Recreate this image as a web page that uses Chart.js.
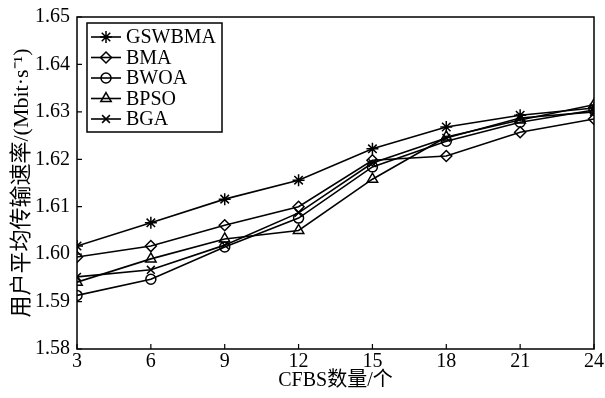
<!DOCTYPE html>
<html>
<head>
<meta charset="utf-8">
<script src="https://cdn.jsdelivr.net/npm/chart.js@4/dist/chart.umd.min.js"></script>
<style>
  html, body { margin: 0; padding: 0; background: #fff; }
  #wrap { width: 605px; height: 398px; }
</style>
</head>
<body>
<div id="wrap"><canvas id="rateChart"></canvas></div>
<script>
// CFBS count on x, average user rate (Mbit/s) on y
const cfbsCounts = [3, 6, 9, 12, 15, 18, 21, 24];
const gswbma = [1.6017, 1.6066, 1.6116, 1.6156, 1.6222, 1.6268, 1.6293, 1.6308];
const bma    = [1.5994, 1.6017, 1.6061, 1.6100, 1.6198, 1.6207, 1.6257, 1.6285];
const bwoa   = [1.5913, 1.5947, 1.6015, 1.6076, 1.6184, 1.6238, 1.6278, 1.6304];
const bpso   = [1.5941, 1.5990, 1.6032, 1.6050, 1.6158, 1.6247, 1.6283, 1.6315];
const bga    = [1.5952, 1.5967, 1.6019, 1.6087, 1.6192, 1.6245, 1.6287, 1.6300];
const seriesNames = ['GSWBMA', 'BMA', 'BWOA', 'BPSO', 'BGA'];
const yTicks = [1.58, 1.59, 1.60, 1.61, 1.62, 1.63, 1.64, 1.65];

const serif = '"Liberation Serif", "Times New Roman", "Noto Sans CJK SC", serif';
const markers = [
  { style: 'star', radius: 6 },
  { style: 'rectRot', radius: 5.5 },
  { style: 'circle', radius: 5 },
  { style: 'triangle', radius: 6 },
  { style: 'crossRot', radius: 5.5 }
];
const allSeries = [gswbma, bma, bwoa, bpso, bga];

const datasets = allSeries.map((vals, i) => ({
  label: seriesNames[i],
  data: vals.map((v, j) => ({ x: cfbsCounts[j], y: v })),
  borderColor: '#000',
  backgroundColor: 'rgba(255,255,255,0)',
  borderWidth: 1.6,
  pointStyle: markers[i].style,
  pointRadius: markers[i].radius,
  pointBorderWidth: 1.5,
  pointBorderColor: '#000',
  pointBackgroundColor: 'rgba(255,255,255,0)',
  tension: 0
}));

// frame, inward ticks and the boxed legend
const framePlugin = {
  id: 'frame',
  afterDraw(chart) {
    const { ctx, chartArea: a, scales } = chart;
    ctx.save();
    ctx.strokeStyle = '#000';
    ctx.lineWidth = 1.5;
    ctx.strokeRect(a.left, a.top, a.right - a.left, a.bottom - a.top);
    ctx.lineWidth = 1.2;
    ctx.beginPath();
    cfbsCounts.forEach(v => {
      const x = scales.x.getPixelForValue(v);
      ctx.moveTo(x, a.bottom);
      ctx.lineTo(x, a.bottom - 5);
    });
    yTicks.forEach(v => {
      const y = scales.y.getPixelForValue(v);
      ctx.moveTo(a.left, y);
      ctx.lineTo(a.left + 5, y);
    });
    ctx.stroke();

    // legend box
    const lx = a.left + 10, ly = a.top + 6, lw = 135, lh = 109;
    ctx.fillStyle = '#fff';
    ctx.fillRect(lx, ly, lw, lh);
    ctx.lineWidth = 1.5;
    ctx.strokeRect(lx, ly, lw, lh);
    ctx.font = '20px ' + serif;
    ctx.textBaseline = 'middle';
    seriesNames.forEach((name, i) => {
      const y = ly + 14 + i * 20.5;
      ctx.lineWidth = 1.6;
      ctx.beginPath();
      ctx.moveTo(lx + 4, y);
      ctx.lineTo(lx + 34, y);
      ctx.stroke();
      ctx.lineWidth = 1.5;
      ctx.fillStyle = 'rgba(255,255,255,0)';
      Chart.helpers.drawPoint(ctx, {
        pointStyle: markers[i].style,
        radius: markers[i].radius,
        rotation: 0,
        borderWidth: 1.5
      }, lx + 19, y);
      ctx.fillStyle = '#000';
      ctx.fillText(name, lx + 39, y + 1);
    });
    ctx.restore();
  }
};

new Chart(document.getElementById('rateChart'), {
  type: 'line',
  data: { datasets },
  options: {
    responsive: true,
    maintainAspectRatio: false,
    animation: false,
    layout: { padding: { left: 0, top: 17, right: 11, bottom: 0 } },
    plugins: {
      legend: { display: false },
      tooltip: { enabled: false }
    },
    scales: {
      x: {
        type: 'linear',
        min: 3,
        max: 24,
        afterBuildTicks: s => { s.ticks = cfbsCounts.map(v => ({ value: v })); },
        afterFit: s => { s.height = 49; s.paddingLeft = 0; s.paddingRight = 0; },
        grid: { display: false, drawTicks: false },
        border: { display: false },
        ticks: { color: '#000', font: { family: serif, size: 20 }, padding: 1 },
        title: {
          display: true,
          text: 'CFBS数量/个',
          color: '#000',
          font: { family: serif, size: 20 },
          padding: { top: 0, bottom: 5 }
        }
      },
      y: {
        min: 1.58,
        max: 1.65,
        afterBuildTicks: s => { s.ticks = yTicks.map(v => ({ value: v })); },
        afterFit: s => { s.width = 77; s.paddingTop = 0; s.paddingBottom = 0; },
        grid: { display: false, drawTicks: false },
        border: { display: false },
        ticks: {
          color: '#000',
          font: { family: serif, size: 20 },
          padding: 7,
          callback: v => Number(v).toFixed(2)
        },
        title: {
          display: true,
          text: '用户平均传输速率/(Mbit·s⁻¹)',
          color: '#000',
          font: { family: serif, size: 22 },
          padding: { top: 9, bottom: 0 }
        }
      }
    }
  },
  plugins: [framePlugin]
});
</script>
</body>
</html>
